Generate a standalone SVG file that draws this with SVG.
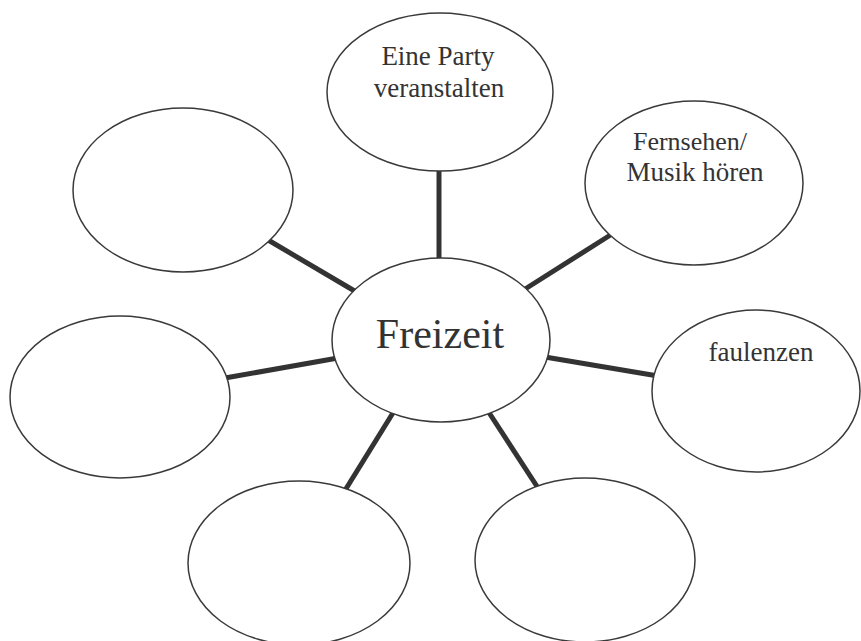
<svg xmlns="http://www.w3.org/2000/svg" width="861" height="641" viewBox="0 0 861 641">
<style>
.bubble{fill:#fff;stroke:#3a3a3a;stroke-width:1.5}
.conn{stroke:#333;stroke-width:5;stroke-linecap:butt;fill:none}
.lbl{font-family:"Liberation Serif","Times New Roman",serif;fill:#333;text-anchor:middle}
</style>
<rect width="861" height="641" fill="#fff"/>
<g id="connectors">
<line class="conn" x1="439" y1="165" x2="439" y2="263"/>
<line class="conn" x1="522" y1="291" x2="612" y2="234"/>
<line class="conn" x1="545" y1="357" x2="658" y2="376"/>
<line class="conn" x1="486" y1="408" x2="540" y2="491"/>
<line class="conn" x1="396" y1="408" x2="344" y2="492"/>
<line class="conn" x1="225" y1="378" x2="338" y2="358"/>
<line class="conn" x1="263" y1="237" x2="358" y2="293"/>
</g>
<g id="freizeit">
<ellipse class="bubble" cx="441" cy="340" rx="109" ry="82"/>
<text class="lbl" x="440" y="348" font-size="42">Freizeit</text>
</g>
<g id="party">
<ellipse class="bubble" cx="440" cy="92" rx="113" ry="79"/>
<text class="lbl" x="438" y="65" font-size="27">Eine Party</text>
<text class="lbl" x="439" y="97" font-size="27">veranstalten</text>
</g>
<g id="fernsehen">
<ellipse class="bubble" cx="694" cy="183" rx="109" ry="82"/>
<text class="lbl" x="690" y="150" font-size="26">Fernsehen/</text>
<text class="lbl" x="695" y="181" font-size="27">Musik hören</text>
</g>
<g id="faulenzen">
<ellipse class="bubble" cx="756" cy="391" rx="104" ry="81"/>
<text class="lbl" x="761" y="361" font-size="27">faulenzen</text>
</g>
<g id="bottom-right">
<ellipse class="bubble" cx="585" cy="560" rx="110" ry="82"/>
</g>
<g id="bottom-left">
<ellipse class="bubble" cx="299" cy="563" rx="111" ry="82"/>
</g>
<g id="left">
<ellipse class="bubble" cx="120" cy="397" rx="110" ry="81"/>
</g>
<g id="top-left">
<ellipse class="bubble" cx="183" cy="190" rx="110" ry="82"/>
</g>
</svg>
